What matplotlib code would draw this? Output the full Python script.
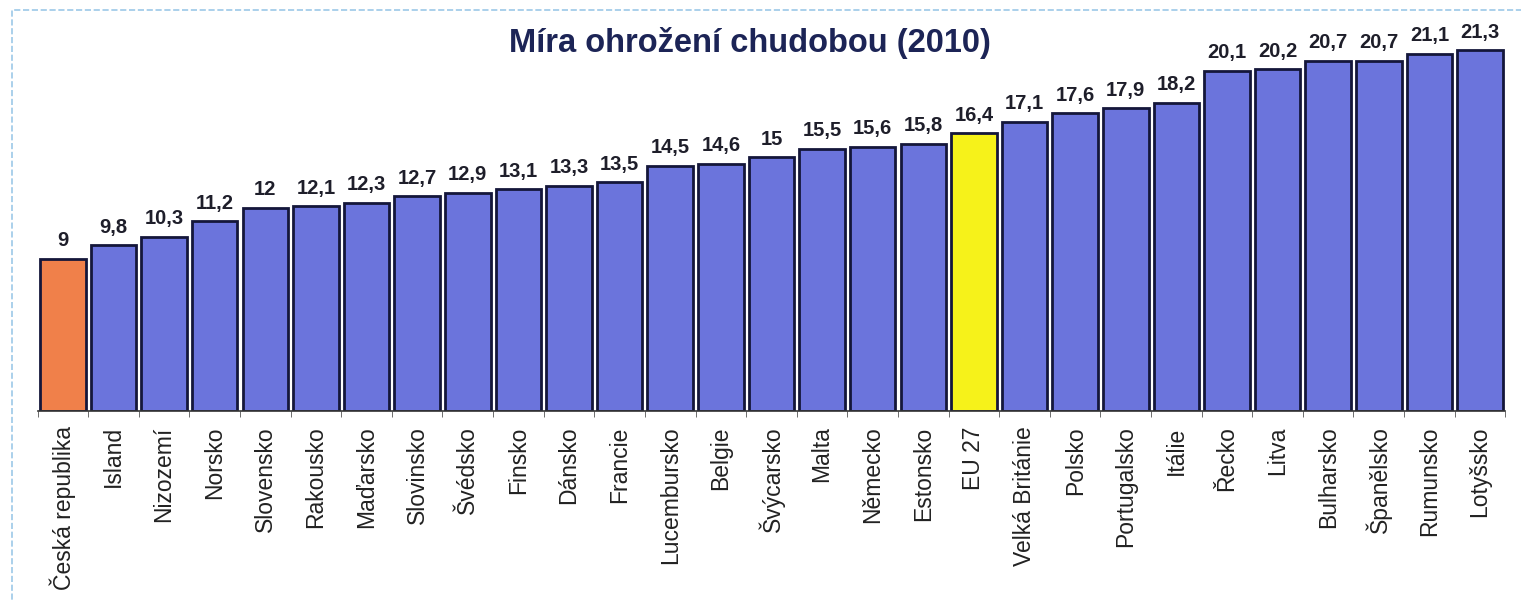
import matplotlib.pyplot as plt
import matplotlib.patches as mpatches
import numpy as np

plt.rcParams['font.family'] = ['Liberation Sans', 'DejaVu Sans']

countries = ['Česká republika', 'Island', 'Nizozemí', 'Norsko', 'Slovensko', 'Rakousko',
             'Maďarsko', 'Slovinsko', 'Švédsko', 'Finsko', 'Dánsko', 'Francie',
             'Lucembursko', 'Belgie', 'Švýcarsko', 'Malta', 'Německo', 'Estonsko',
             'EU 27', 'Velká Británie', 'Polsko', 'Portugalsko', 'Itálie', 'Řecko',
             'Litva', 'Bulharsko', 'Španělsko', 'Rumunsko', 'Lotyšsko']
values = [9, 9.8, 10.3, 11.2, 12, 12.1, 12.3, 12.7, 12.9, 13.1, 13.3, 13.5,
          14.5, 14.6, 15, 15.5, 15.6, 15.8, 16.4, 17.1, 17.6, 17.9, 18.2, 20.1,
          20.2, 20.7, 20.7, 21.1, 21.3]

blue = '#6b74dc'
colors = [blue] * len(values)
colors[0] = '#f0804a'
colors[countries.index('EU 27')] = '#f6f21a'

fig = plt.figure(figsize=(15.21, 6.02), dpi=100)
ax = fig.add_axes([0.0247, 1 - 411 / 602, 0.965, (411 - 20) / 602])

x = np.arange(len(values))
ax.bar(x, values, width=0.9, color=colors, edgecolor='#14163a', linewidth=2)

for xi, v in zip(x, values):
    txt = ('%g' % v).replace('.', ',')
    ax.text(xi, v + 0.5, txt, ha='center', va='bottom', fontsize=14.5,
            fontweight='bold', color='#1e1e2a')

ax.set_xlim(-0.5, len(values) - 0.5)
ax.set_ylim(0, 23.1)
ax.set_yticks([])
ax.set_xticks(x)
ax.set_xticklabels(countries, rotation=90, fontsize=16.5, color='#222222')
ax.set_xticks(np.arange(-0.5, len(values), 1), minor=True)
ax.tick_params(axis='x', which='major', length=0, pad=11)
ax.tick_params(axis='x', which='minor', length=4, color='#555555')
for s in ['top', 'right', 'left']:
    ax.spines[s].set_visible(False)
ax.spines['bottom'].set_color('#333333')
ax.spines['bottom'].set_linewidth(1.2)

fig.text(0.493, 0.928, 'Míra ohrožení chudobou (2010)', ha='center', va='center',
         fontsize=23.5, fontweight='bold', color='#1c2456')

# light blue scan frame
fig.patches.append(mpatches.Rectangle((0.008, -0.01), 1.0, 0.993, transform=fig.transFigure,
                                      fill=False, edgecolor='#9cc8e8', linewidth=1.2,
                                      linestyle='--'))

fig.savefig('out.png', dpi=100)
